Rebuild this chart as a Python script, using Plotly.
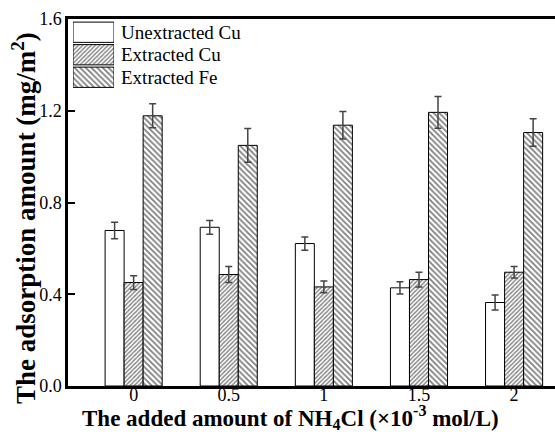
import plotly.graph_objects as go

categories = ["0", "0.5", "1", "1.5", "2"]
series_names = ["Unextracted Cu", "Extracted Cu", "Extracted Fe"]
unextracted_cu = [0.678, 0.692, 0.621, 0.428, 0.364]
unextracted_cu_err = [0.036, 0.030, 0.029, 0.027, 0.033]
extracted_cu = [0.451, 0.486, 0.432, 0.464, 0.496]
extracted_cu_err = [0.030, 0.035, 0.026, 0.032, 0.025]
extracted_fe = [1.178, 1.049, 1.137, 1.193, 1.105]
extracted_fe_err = [0.052, 0.074, 0.060, 0.069, 0.060]
y_ticks = [0.0, 0.4, 0.8, 1.2, 1.6]

values = [unextracted_cu, extracted_cu, extracted_fe]
errors = [unextracted_cu_err, extracted_cu_err, extracted_fe_err]
patterns = ["", "/", "\\"]
pattern_sizes = [4, 3, 4]

FONT = "Liberation Serif"
fig = go.Figure()
for name, v, e, p, s in zip(series_names, values, errors, patterns, pattern_sizes):
    fig.add_trace(go.Bar(
        x=categories, y=v, name=name, showlegend=False,
        marker=dict(color="white", line=dict(color="black", width=1),
                    pattern=dict(shape=p, fgcolor="black", bgcolor="white",
                                 size=s, solidity=0.45)),
        error_y=dict(type="data", array=e, color="#444444", thickness=1.5, width=3.5),
    ))

# legend swatches (drawn as a small inset subplot)
for name, p, s in zip(series_names, patterns, pattern_sizes):
    fig.add_trace(go.Bar(
        x=[1], y=[name], orientation="h", base=0, width=0.9, offset=-0.45,
        xaxis="x3", yaxis="y3", showlegend=False, hoverinfo="skip",
        marker=dict(color="white", line=dict(color="black", width=1),
                    pattern=dict(shape=p, fgcolor="black", bgcolor="white",
                                 size=s, solidity=0.45)),
    ))
    fig.add_annotation(x=0.1047, xref="paper", y=name, yref="y3", text=name,
                       showarrow=False, xanchor="left", yanchor="middle",
                       font=dict(family=FONT, size=19, color="black"))

fig.update_layout(
    width=555, height=432,
    margin=dict(l=68, r=0, t=19, b=46),
    paper_bgcolor="white", plot_bgcolor="white",
    barmode="group", bargap=0.4, bargroupgap=0,
    font=dict(family=FONT, size=18, color="black"),
    xaxis=dict(type="category", range=[-0.69, 4.43], showline=True, linecolor="black",
               linewidth=3, mirror=True, ticks="", showgrid=False, zeroline=False,
               ticklabelstandoff=-10,
               tickfont=dict(family=FONT, size=18)),
    yaxis=dict(range=[0, 1.6], tickvals=y_ticks, tickformat=".1f", showline=True,
               linecolor="black", linewidth=2.5, ticks="inside", ticklen=7, tickwidth=2,
               tickcolor="black", showgrid=False, zeroline=False,
               tickfont=dict(family=FONT, size=18)),
    xaxis3=dict(domain=[0.0103, 0.0945], range=[0, 1], anchor="y3", visible=False,
                fixedrange=True),
    yaxis3=dict(domain=[0.8106, 0.9946], anchor="x3", visible=False, type="category",
                range=[2.5, -0.5], fixedrange=True),
)

fig.add_annotation(x=0.457, y=-0.087, xref="paper", yref="paper",
                   text="The added amount of NH<sub>4</sub>Cl (×10<sup>-3</sup> mol/L)",
                   showarrow=False, xanchor="center", yanchor="middle",
                   font=dict(family=FONT, size=23, color="black", weight="bold"))
fig.add_annotation(x=-0.0903, y=0.458, xref="paper", yref="paper",
                   text="The adsorption amount (mg/m<sup>2</sup>)", textangle=-90,
                   showarrow=False, xanchor="center", yanchor="middle",
                   font=dict(family=FONT, size=27, color="black", weight="bold"))

fig.write_html("out.html")
